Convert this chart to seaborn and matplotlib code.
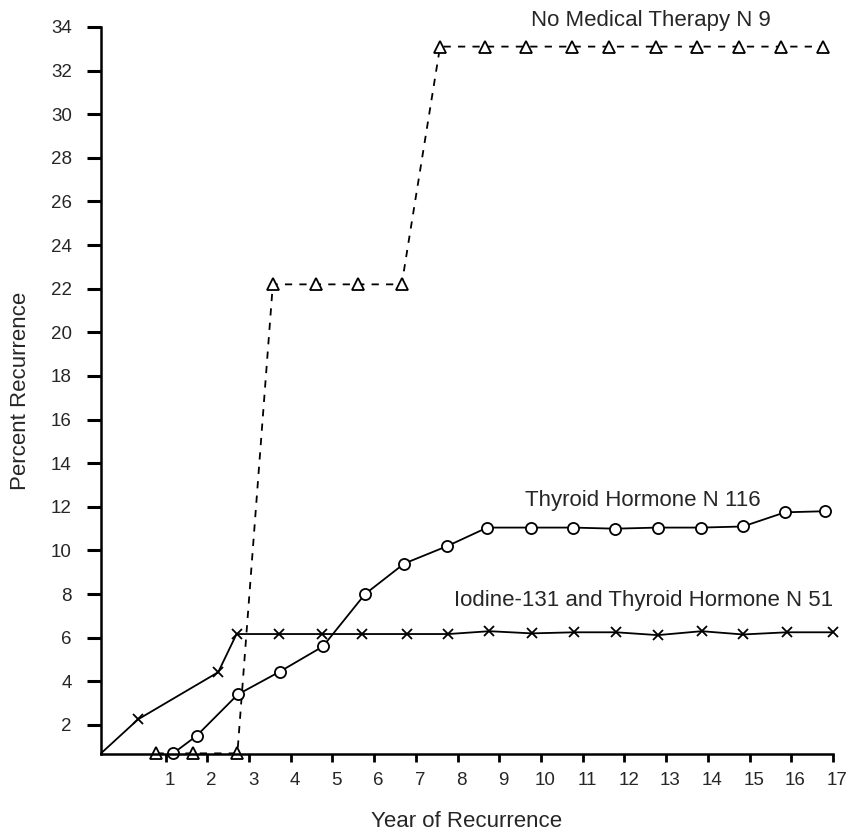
import pandas as pd
import matplotlib.pyplot as plt
import matplotlib.transforms as mtransforms
import seaborn as sns

# values (x in axis tick units, y in percent)
# "zero" points sit on the drawn baseline, which is at ~0.7 on this scale
years_none = [0.78, 1.65, 2.72, 3.57, 4.6, 5.6, 6.66, 7.58, 8.66, 9.64,
              10.74, 11.63, 12.76, 13.73, 14.74, 15.75, 16.76]
pct_none = [0.7, 0.7, 0.7, 22.2, 22.2, 22.2, 22.2, 33.1, 33.1, 33.1,
            33.1, 33.1, 33.1, 33.1, 33.1, 33.1, 33.1]

years_thyroid = [1.18, 1.74, 2.73, 3.74, 4.77, 5.78, 6.72, 7.75, 8.71, 9.76,
                 10.77, 11.77, 12.8, 13.84, 14.84, 15.85, 16.81]
pct_thyroid = [0.7, 1.5, 3.4, 4.45, 5.6, 8.0, 9.4, 10.2, 11.05, 11.05,
               11.05, 11.0, 11.05, 11.05, 11.1, 11.75, 11.8]

years_iodine = [-0.55, 0.34, 2.26, 2.7, 3.72, 4.74, 5.7, 6.78, 7.78, 8.76,
                9.78, 10.8, 11.8, 12.8, 13.85, 14.84, 15.9, 17.0]
pct_iodine = [0.7, 2.26, 4.42, 6.17, 6.17, 6.17, 6.17, 6.17, 6.17, 6.3,
              6.2, 6.25, 6.25, 6.12, 6.3, 6.15, 6.25, 6.25]

labels = ["No Medical Therapy N 9", "Thyroid Hormone N 116",
          "Iodine-131 and Thyroid Hormone N 51"]
y_ticks = list(range(2, 35, 2))
x_ticks = list(range(1, 18))

sns.set_style("ticks")
plt.rcParams['font.family'] = ['Liberation Sans', 'DejaVu Sans']

fig = plt.figure(figsize=(8.48, 8.35), dpi=100)
ax = fig.add_axes([0.1191, 0.097, 0.8632, 0.8707])

df_none = pd.DataFrame({"year": years_none, "pct": pct_none})
df_thy = pd.DataFrame({"year": years_thyroid, "pct": pct_thyroid})
df_iod = pd.DataFrame({"year": years_iodine, "pct": pct_iodine})

common = dict(color="black", markeredgecolor="black", markerfacecolor="white",
              markeredgewidth=1.3, sort=False, estimator=None, clip_on=False)

sns.lineplot(data=df_none, x="year", y="pct", ax=ax, linestyle=(0, (4, 4)),
             linewidth=1.3, marker="^", markersize=9, **common)
sns.lineplot(data=df_thy, x="year", y="pct", ax=ax, linewidth=1.3,
             marker="o", markersize=8, **common)
sns.lineplot(data=df_iod, x="year", y="pct", ax=ax, linewidth=1.3,
             marker="x", markersize=6.5, markevery=list(range(1, len(years_iodine))),
             **common)

# series labels
ax.text(12.63, 34.3, labels[0], fontsize=16, ha="center", va="center")
ax.text(12.43, 12.3, labels[1], fontsize=16, ha="center", va="center")
ax.text(12.46, 7.73, labels[2], fontsize=16, ha="center", va="center")

ax.set_xlim(-0.55, 17.0)
ax.set_ylim(0.67, 34.0)
ax.set_yticks(y_ticks)
ax.set_xticks(x_ticks)
ax.set_xticklabels([str(v) for v in x_ticks])
ax.set_yticklabels([str(v) for v in y_ticks])
ax.tick_params(axis="y", direction="out", length=10, width=2.2, pad=11,
               labelsize=13.5, color="black")
ax.tick_params(axis="x", direction="out", length=6, width=2, pad=7,
               labelsize=13.5, color="black")
offset = mtransforms.ScaledTranslation(3 / 72, 0, fig.dpi_scale_trans)
for lab in ax.get_xticklabels():
    lab.set_transform(lab.get_transform() + offset)

ax.set_xlabel("Year of Recurrence", fontsize=16, labelpad=16)
ax.set_ylabel("Percent Recurrence", fontsize=16, labelpad=14)

sns.despine(ax=ax)
for side in ["left", "bottom"]:
    ax.spines[side].set_linewidth(1.8)
    ax.spines[side].set_color("black")
ax.grid(False)

fig.savefig("out.png", dpi=100)
